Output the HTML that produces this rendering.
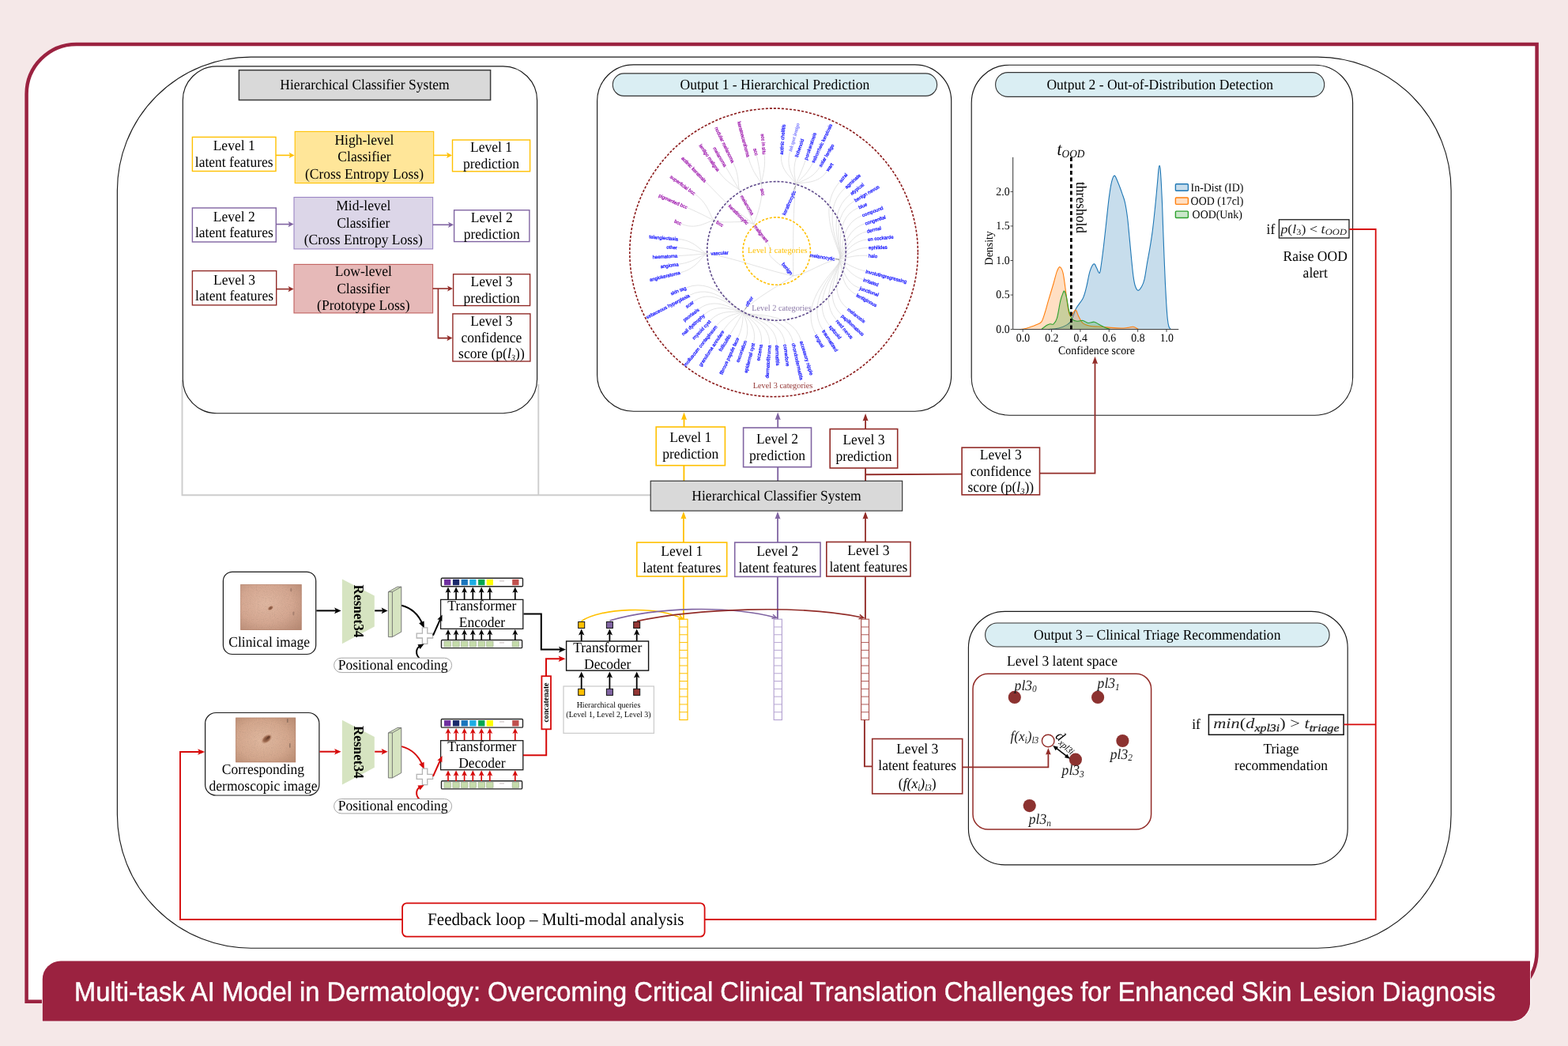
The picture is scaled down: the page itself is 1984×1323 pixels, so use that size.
<!DOCTYPE html>
<html lang="en">
<head>
<meta charset="utf-8">
<title>Multi-task AI Model in Dermatology</title>
<style>
html,body{margin:0;padding:0;background:#f5e8e8;}
body{width:1984px;height:1323px;overflow:hidden;}
svg{display:block;will-change:transform;}
text{white-space:pre;text-rendering:geometricPrecision;}
</style>
</head>
<body>
<svg width="1984" height="1323" viewBox="0 0 1984 1323" font-family='"Liberation Serif", "DejaVu Serif", serif' font-size="17.55">
<rect x="0" y="0" width="1984" height="1323" fill="#f5e8e8"/>
<path d="M96.6 56.0 L1944.6 56.0 L1944.6 1203.8 A63 63 0 0 1 1881.6 1266.8 L33.6 1266.8 L33.6 119.0 A63 63 0 0 1 96.6 56.0 Z" fill="#fff" stroke="#9b2240" stroke-width="4.5"/>
<path d="M76.8 1215.4 L1936 1215.4 L1936 1268.5 A23 23 0 0 1 1913 1291.5 L53.8 1291.5 L53.8 1238.4 A23 23 0 0 1 76.8 1215.4 Z" fill="#9b2240" stroke="#fff" stroke-width="1.6" paint-order="stroke"/>
<text font-size="34.3" font-family='"Liberation Sans", "DejaVu Sans", sans-serif' fill="#fff" transform="translate(93.9 1265.8) scale(0.953 1)" stroke="#fff" stroke-width="0.45">Multi-task AI Model in Dermatology: Overcoming Critical Clinical Translation Challenges for Enhanced Skin Lesion Diagnosis</text>
<rect x="148.4" y="72.1" width="1687.7" height="1127.1" rx="169" fill="none" stroke="#1a1a1a" stroke-width="1.15"/>
<path d="M230.5 481 L230.5 626.2 L823 626.2" fill="none" stroke="#cdcdcd" stroke-width="1.9"/>
<path d="M681.3 486 L681.3 626.2" fill="none" stroke="#cdcdcd" stroke-width="1.9"/>
<rect x="231.3" y="83.9" width="448.3" height="438.8" rx="43" fill="#fff" stroke="#1a1a1a" stroke-width="1.15"/>
<rect x="755.6" y="81.8" width="448.1" height="438.4" rx="46" fill="#fff" stroke="#1a1a1a" stroke-width="1.15"/>
<rect x="1229.2" y="82.2" width="482.4" height="443" rx="48" fill="#fff" stroke="#1a1a1a" stroke-width="1.15"/>
<rect x="1225.4" y="773.3" width="479.8" height="320.6" rx="46" fill="#fff" stroke="#1a1a1a" stroke-width="1.15"/>
<rect x="775.3" y="92.9" width="410.3" height="28.5" rx="14.2" fill="#daeef3" stroke="#333" stroke-width="1.1"/>
<text font-size="18.5" text-anchor="middle" transform="translate(980.4 112.9) scale(0.9486 1)">Output 1 - Hierarchical Prediction</text>
<rect x="1259.6" y="91.6" width="416.1" height="30.8" rx="15.4" fill="#daeef3" stroke="#333" stroke-width="1.1"/>
<text font-size="18.5" text-anchor="middle" transform="translate(1467.7 112.9) scale(0.9486 1)">Output 2 - Out-of-Distribution Detection</text>
<rect x="1246.6" y="788" width="435.5" height="30" rx="15" fill="#daeef3" stroke="#333" stroke-width="1.1"/>
<text font-size="18.5" text-anchor="middle" transform="translate(1464.2 808.9) scale(0.9486 1)">Output 3 – Clinical Triage Recommendation</text>
<rect x="302.4" y="88.7" width="318.2" height="37.8" fill="#d9d9d9" stroke="#3a3a3a" stroke-width="1.5"/>
<text font-size="18.5" text-anchor="middle" transform="translate(461.5 113) scale(0.9486 1)">Hierarchical Classifier System</text>
<rect x="243.4" y="173.4" width="105.6" height="43.1" fill="#fff" stroke="#ffc000" stroke-width="1.4"/><text font-size="18.5" text-anchor="middle" transform="translate(296.2 190.4) scale(0.9486 1)">Level 1</text><text font-size="18.5" text-anchor="middle" transform="translate(296.2 211.2) scale(0.9486 1)">latent features</text>
<rect x="373.2" y="166.4" width="175.5" height="65.2" fill="#ffe699" stroke="#ffc000" stroke-width="1.1"/><text font-size="18.5" text-anchor="middle" transform="translate(460.95 182.5) scale(0.9486 1)">High-level</text><text font-size="18.5" text-anchor="middle" transform="translate(460.95 204) scale(0.9486 1)">Classifier</text><text font-size="18.5" text-anchor="middle" transform="translate(460.95 225.5) scale(0.9486 1)">(Cross Entropy Loss)</text>
<rect x="572.5" y="177" width="98.1" height="39.8" fill="#fff" stroke="#ffc000" stroke-width="1.4"/><text font-size="18.5" text-anchor="middle" transform="translate(621.55 192.4) scale(0.9486 1)">Level 1</text><text font-size="18.5" text-anchor="middle" transform="translate(621.55 213.2) scale(0.9486 1)">prediction</text>
<path d="M349 196.4 L367.49 196.4" fill="none" stroke="#ffc000" stroke-width="1.6"/><path d="M372.6 196.4 L365.6 200 L367.14 196.4 L365.6 192.8 Z" fill="#ffc000"/>
<path d="M548.7 196.4 L566.89 196.4" fill="none" stroke="#ffc000" stroke-width="1.6"/><path d="M572 196.4 L565 200 L566.54 196.4 L565 192.8 Z" fill="#ffc000"/>
<rect x="243.4" y="263" width="105.9" height="43" fill="#fff" stroke="#8064a2" stroke-width="1.4"/><text font-size="18.5" text-anchor="middle" transform="translate(296.35 279.6) scale(0.9486 1)">Level 2</text><text font-size="18.5" text-anchor="middle" transform="translate(296.35 300.4) scale(0.9486 1)">latent features</text>
<rect x="372" y="249.5" width="175.6" height="65.4" fill="#dcd6e8" stroke="#9b86c4" stroke-width="1.1"/><text font-size="18.5" text-anchor="middle" transform="translate(459.8 266) scale(0.9486 1)">Mid-level</text><text font-size="18.5" text-anchor="middle" transform="translate(459.8 287.5) scale(0.9486 1)">Classifier</text><text font-size="18.5" text-anchor="middle" transform="translate(459.8 309) scale(0.9486 1)">(Cross Entropy Loss)</text>
<rect x="574.6" y="265.8" width="95.3" height="39.8" fill="#fff" stroke="#8064a2" stroke-width="1.4"/><text font-size="18.5" text-anchor="middle" transform="translate(622.25 281.2) scale(0.9486 1)">Level 2</text><text font-size="18.5" text-anchor="middle" transform="translate(622.25 302) scale(0.9486 1)">prediction</text>
<path d="M349.3 283.6 L366.49 283.6" fill="none" stroke="#8064a2" stroke-width="1.6"/><path d="M371.6 283.6 L364.6 287.2 L366.14 283.6 L364.6 280 Z" fill="#8064a2"/>
<path d="M547.6 284.3 L568.89 284.3" fill="none" stroke="#8064a2" stroke-width="1.6"/><path d="M574 284.3 L567 287.9 L568.54 284.3 L567 280.7 Z" fill="#8064a2"/>
<rect x="243.4" y="342.6" width="106.3" height="43.3" fill="#fff" stroke="#922c28" stroke-width="1.4"/><text font-size="18.5" text-anchor="middle" transform="translate(296.55 359.6) scale(0.9486 1)">Level 3</text><text font-size="18.5" text-anchor="middle" transform="translate(296.55 380.4) scale(0.9486 1)">latent features</text>
<rect x="372" y="334.4" width="175.6" height="61.5" fill="#e6b9b8" stroke="#c0605e" stroke-width="1.1"/><text font-size="18.5" text-anchor="middle" transform="translate(459.8 349.4) scale(0.9486 1)">Low-level</text><text font-size="18.5" text-anchor="middle" transform="translate(459.8 370.6) scale(0.9486 1)">Classifier</text><text font-size="18.5" text-anchor="middle" transform="translate(459.8 391.8) scale(0.9486 1)">(Prototype Loss)</text>
<rect x="573.6" y="346.8" width="97" height="39.8" fill="#fff" stroke="#922c28" stroke-width="1.4"/><text font-size="18.5" text-anchor="middle" transform="translate(622.1 361.9) scale(0.9486 1)">Level 3</text><text font-size="18.5" text-anchor="middle" transform="translate(622.1 382.7) scale(0.9486 1)">prediction</text>
<rect x="572.9" y="396.9" width="98" height="60.1" fill="#fff" stroke="#922c28" stroke-width="1.4"/><text font-size="18.5" text-anchor="middle" transform="translate(621.9 411.7) scale(0.9486 1)">Level 3</text><text font-size="18.5" text-anchor="middle" transform="translate(621.9 432.5) scale(0.9486 1)">confidence</text><text font-size="18.5" text-anchor="middle" transform="translate(621.9 453.3) scale(0.9486 1)">score (p(<tspan font-style="italic">l</tspan><tspan font-style="italic" font-size="11" dy="3">3</tspan><tspan dy="-3">))</tspan></text>
<path d="M349.7 365.6 L366.49 365.6" fill="none" stroke="#922c28" stroke-width="1.6"/><path d="M371.6 365.6 L364.6 369.2 L366.14 365.6 L364.6 362 Z" fill="#922c28"/>
<path d="M547.6 365 L567.89 365" fill="none" stroke="#922c28" stroke-width="1.6"/><path d="M573 365 L566 368.6 L567.54 365 L566 361.4 Z" fill="#922c28"/>
<path d="M554.4 365 L554.4 427.6 L567.29 427.6" fill="none" stroke="#922c28" stroke-width="1.6"/><path d="M572.4 427.6 L565.4 431.2 L566.94 427.6 L565.4 424 Z" fill="#922c28"/>
<path d="M963.6 233.4C962.48 228.26 952.38 219.63 947.11 199.66 M963.6 233.4C962.52 228.44 962.05 217.09 957.57 197.67 M963.6 233.4C962.5 228.35 969.07 216.91 967.3 196.7 M935.6 240.6C933.1 236.43 936.44 223.88 928.12 206.68 M935.6 240.6C933.18 236.57 928.07 227.5 918.61 211.63 M935.6 240.6C933.09 236.41 920.62 232.98 909.68 217.19 M921 258.4C917.1 254.59 908.52 246.08 893.63 230.66 M903.9 279.2C898.79 276.66 898.22 259.37 880.17 246.11 M903.9 279.2C899.27 276.9 889.3 271.21 870.7 263.08 M903.9 279.2C898.77 276.65 883.94 292.33 863.21 283.57 M1006.8 233.8C1008.44 228.24 986.72 219.38 988.51 196.7 M1006.8 233.8C1008.45 228.19 993.15 214.79 999.38 192.66 M1006.8 233.8C1008.15 229.21 1001.49 217.47 1007.42 199.64 M1006.8 233.8C1008.1 229.38 1013.12 220.35 1019.01 203.23 M1006.8 233.8C1008.16 229.18 1019.87 223.78 1027.99 206.68 M1006.8 233.8C1008.28 228.78 1026.46 229.35 1036.89 211.63 M1006.8 233.8C1008.48 228.09 1032.72 236.48 1045.92 217.19 M1060.7 328.1C1074.22 329.84 1027.06 271.38 1061.92 230.71 M1060.7 328.1C1073.24 329.71 1031.83 271.23 1068.9 238.2 M1060.7 328.1C1072.26 329.58 1039.36 274.34 1075.45 246.14 M1060.7 328.1C1071.26 329.46 1044.43 276.04 1080.37 254.61 M1060.7 328.1C1070.35 329.34 1050.15 278.14 1085.3 263.07 M1060.7 328.1C1069.34 329.21 1057.92 285.4 1089.88 273.13 M1060.7 328.1C1068.41 329.09 1064.32 292.66 1093.36 283.17 M1060.7 328.1C1067.59 328.98 1069.42 299.88 1095.84 293.1 M1060.7 328.1C1066.8 328.88 1072.76 305.51 1096.81 303.02 M1060.7 328.1C1066.24 328.81 1075.85 313.91 1097.8 313.33 M1060.7 328.1C1065.87 328.76 1077.18 322.04 1097.6 323.32 M1060.7 328.1C1065.8 328.75 1074.75 337.91 1094.34 342.9 M1060.7 328.1C1066.22 328.81 1070.67 346.33 1091.36 353.41 M1060.7 328.1C1066.86 328.89 1063.88 355.56 1086.77 363.99 M1060.7 328.1C1067.58 328.98 1058.87 359.47 1082.84 372.43 M1060.7 328.1C1069.41 329.22 1044.65 368.61 1071.85 389.86 M1060.7 328.1C1070.4 329.35 1036.22 371.77 1064.42 397.88 M1060.7 328.1C1071.29 329.46 1030.46 372.6 1057.91 404.29 M1060.7 328.1C1072.37 329.6 1019.61 375.97 1049.33 411.38 M1060.7 328.1C1073.32 329.72 1013.73 374.88 1040.95 416.79 M1060.7 328.1C1074.38 329.86 1005.73 374.9 1031.92 422.35 M941.2 393.1C935.76 403.11 1000.46 387.55 1013.55 430.35 M941.2 393.1C936.26 402.19 994.67 393.15 1003.54 432.83 M941.2 393.1C936.76 401.27 988.8 398.07 993.25 434.31 M941.2 393.1C937.23 400.41 981.74 402.64 983.05 435.3 M941.2 393.1C937.64 399.64 975.73 406.12 973.59 435.3 M941.2 393.1C938.08 398.84 967.57 409.03 963.11 434.32 M941.2 393.1C938.42 398.22 959.37 410.68 953.6 432.84 M941.2 393.1C938.74 397.62 950.63 410.82 943.62 429.77 M941.2 393.1C938.93 397.28 942 409.38 934.11 426.31 M941.2 393.1C938.94 397.26 933.98 406.53 924.23 422.38 M941.2 393.1C938.85 397.43 926.34 401.16 915.66 417.3 M941.2 393.1C938.62 397.85 920.41 394.75 907.15 411.36 M941.2 393.1C938.29 398.46 915.6 387.32 899.22 404.82 M941.2 393.1C937.88 399.21 911.9 379 891.69 397.39 M941.2 393.1C937.42 400.05 909.48 371.54 884.75 390.37 M941.2 393.1C936.91 401 906.59 359.93 878.17 380.89 M941.2 393.1C936.48 401.79 908.04 355.19 873.47 372.95 M941.2 393.1C935.99 402.68 908.98 347.86 869.12 363.56 M894.6 320.8C888.93 320.98 883.45 339.4 861.77 344.52 M894.6 320.8C889.38 320.97 880.04 331.29 859.69 334.04 M894.6 320.8C889.53 320.96 878.39 322.57 858.5 323.54 M894.6 320.8C889.4 320.97 878.6 314.58 858.2 313.37 M894.6 320.8C889.02 320.98 881.04 304.33 859.2 302.5 M1003.8 348.8C1003.4 320 1003.2 270 1006.8 233.8 M1003.8 348.8C1022 347 1040 331 1060.7 328.1 M1003.8 348.8C975 344 930 326 894.6 320.8 M1003.8 348.8C985 362 955 377 941.2 393.1 M953.8 283.6C940 277 920 284 903.9 279.2 M953.8 283.6C945 276 930 266 921 258.4 M953.8 283.6C948 270 940 252 935.6 240.6 M953.8 283.6C959 270 966 250 963.6 233.4 M975.5 316C972 306 964 296 953.8 283.6 M977 315.5C973.5 316 972.5 321 975 324.5C984 334 996 341 1003.8 348.8" fill="none" stroke="#dcdcdc" stroke-width="0.8" stroke-linecap="round"/>
<path d="M1057 327.3L1062 328.4M942.5 391.5L945 387.5M1004.6 240L1006.6 235" fill="none" stroke="#8a8a8a" stroke-width="0.9"/>
<circle cx="979.1" cy="319.4" r="182.3" fill="none" stroke="#8b1a1a" stroke-width="1.6" stroke-dasharray="3.1 1.95"/>
<circle cx="982.5" cy="317.4" r="87.8" fill="none" stroke="#5f4a8b" stroke-width="1.6" stroke-dasharray="3.1 1.95"/>
<circle cx="982.7" cy="317.6" r="42.7" fill="none" stroke="#ffc000" stroke-width="1.6" stroke-dasharray="3.1 1.95"/>
<g font-family='"Liberation Sans", "DejaVu Sans", sans-serif' font-size="6" stroke-width="0.34"><text x="946.8" y="198.5" dy="2.05" text-anchor="end" fill="#a62bb4" stroke="#a62bb4" transform="rotate(75.2 946.8 198.5)">keratoacanthoma</text><text x="957.3" y="196.5" dy="2.05" text-anchor="end" fill="#a62bb4" stroke="#a62bb4" transform="rotate(77 957.3 196.5)">scc</text><text x="967.2" y="195.5" dy="2.05" text-anchor="end" fill="#a62bb4" stroke="#a62bb4" transform="rotate(85 967.2 195.5)">scc in situ</text><text x="927.6" y="205.6" dy="2.05" text-anchor="end" fill="#a62bb4" stroke="#a62bb4" transform="rotate(64.2 927.6 205.6)">nodular melanoma</text><text x="918" y="210.6" dy="2.05" text-anchor="end" fill="#a62bb4" stroke="#a62bb4" transform="rotate(59.2 918 210.6)">melanoma</text><text x="909" y="216.2" dy="2.05" text-anchor="end" fill="#a62bb4" stroke="#a62bb4" transform="rotate(55.3 909 216.2)">lentigo maligna</text><text x="892.8" y="229.8" dy="2.05" text-anchor="end" fill="#a62bb4" stroke="#a62bb4" transform="rotate(46 892.8 229.8)">actinic keratosis</text><text x="879.2" y="245.4" dy="2.05" text-anchor="end" fill="#a62bb4" stroke="#a62bb4" transform="rotate(36.3 879.2 245.4)">superficial bcc</text><text x="869.6" y="262.6" dy="2.05" text-anchor="end" fill="#a62bb4" stroke="#a62bb4" transform="rotate(23.6 869.6 262.6)">pigmented bcc</text><text x="862.1" y="283.1" dy="2.05" text-anchor="end" fill="#a62bb4" stroke="#a62bb4" transform="rotate(22.9 862.1 283.1)">bcc</text><text x="988.6" y="195.5" dy="2.05" fill="#2b2bff" stroke="#2b2bff" transform="rotate(-85.5 988.6 195.5)">actinic cheilitis</text><text x="999.7" y="191.5" dy="2.05" fill="#8f8fff" stroke="#8f8fff" font-family='"Liberation Serif", serif' font-style="italic" transform="rotate(-74.3 999.7 191.5)">ink spot lentigo</text><text x="1007.8" y="198.5" dy="2.05" fill="#2b2bff" stroke="#2b2bff" transform="rotate(-71.6 1007.8 198.5)">lichenoid</text><text x="1019.4" y="202.1" dy="2.05" fill="#2b2bff" stroke="#2b2bff" transform="rotate(-71 1019.4 202.1)">porokeratosis</text><text x="1028.5" y="205.6" dy="2.05" fill="#2b2bff" stroke="#2b2bff" transform="rotate(-64.6 1028.5 205.6)">seborrheic keratosis</text><text x="1037.5" y="210.6" dy="2.05" fill="#2b2bff" stroke="#2b2bff" transform="rotate(-59.5 1037.5 210.6)">solar lentigo</text><text x="1046.6" y="216.2" dy="2.05" fill="#2b2bff" stroke="#2b2bff" transform="rotate(-55.6 1046.6 216.2)">wart</text><text x="1062.7" y="229.8" dy="2.05" fill="#2b2bff" stroke="#2b2bff" transform="rotate(-49.4 1062.7 229.8)">acral</text><text x="1069.8" y="237.4" dy="2.05" fill="#2b2bff" stroke="#2b2bff" transform="rotate(-41.7 1069.8 237.4)">agminate</text><text x="1076.4" y="245.4" dy="2.05" fill="#2b2bff" stroke="#2b2bff" transform="rotate(-38 1076.4 245.4)">atypical</text><text x="1081.4" y="254" dy="2.05" fill="#2b2bff" stroke="#2b2bff" transform="rotate(-30.8 1081.4 254)">benign nevus</text><text x="1086.4" y="262.6" dy="2.05" fill="#2b2bff" stroke="#2b2bff" transform="rotate(-23.2 1086.4 262.6)">blue</text><text x="1091" y="272.7" dy="2.05" fill="#2b2bff" stroke="#2b2bff" transform="rotate(-21 1091 272.7)">compound</text><text x="1094.5" y="282.8" dy="2.05" fill="#2b2bff" stroke="#2b2bff" transform="rotate(-18.1 1094.5 282.8)">congenital</text><text x="1097" y="292.8" dy="2.05" fill="#2b2bff" stroke="#2b2bff" transform="rotate(-14.4 1097 292.8)">dermal</text><text x="1098" y="302.9" dy="2.05" fill="#2b2bff" stroke="#2b2bff" transform="rotate(-5.9 1098 302.9)">en cockarde</text><text x="1099" y="313.3" dy="2.05" fill="#2b2bff" stroke="#2b2bff" transform="rotate(-1.5 1099 313.3)">ephilides</text><text x="1098.8" y="323.4" dy="2.05" fill="#2b2bff" stroke="#2b2bff" transform="rotate(3.6 1098.8 323.4)">halo</text><text x="1095.5" y="343.2" dy="2.05" fill="#2b2bff" stroke="#2b2bff" transform="rotate(14.3 1095.5 343.2)">involutingregressing</text><text x="1092.5" y="353.8" dy="2.05" fill="#2b2bff" stroke="#2b2bff" transform="rotate(18.9 1092.5 353.8)">irritated</text><text x="1087.9" y="364.4" dy="2.05" fill="#2b2bff" stroke="#2b2bff" transform="rotate(20.2 1087.9 364.4)">junctional</text><text x="1083.9" y="373" dy="2.05" fill="#2b2bff" stroke="#2b2bff" transform="rotate(28.4 1083.9 373)">lentiginous</text><text x="1072.8" y="390.6" dy="2.05" fill="#2b2bff" stroke="#2b2bff" transform="rotate(38 1072.8 390.6)">melanosis</text><text x="1065.3" y="398.7" dy="2.05" fill="#2b2bff" stroke="#2b2bff" transform="rotate(42.8 1065.3 398.7)">papillomatous</text><text x="1058.7" y="405.2" dy="2.05" fill="#2b2bff" stroke="#2b2bff" transform="rotate(49.1 1058.7 405.2)">reed nevus</text><text x="1050.1" y="412.3" dy="2.05" fill="#2b2bff" stroke="#2b2bff" transform="rotate(50 1050.1 412.3)">spitzoid</text><text x="1041.6" y="417.8" dy="2.05" fill="#2b2bff" stroke="#2b2bff" transform="rotate(57 1041.6 417.8)">traumatized</text><text x="1032.5" y="423.4" dy="2.05" fill="#2b2bff" stroke="#2b2bff" transform="rotate(61.1 1032.5 423.4)">ungual</text><text x="1013.9" y="431.5" dy="2.05" fill="#2b2bff" stroke="#2b2bff" transform="rotate(73 1013.9 431.5)">accessory nipple</text><text x="1003.8" y="434" dy="2.05" fill="#2b2bff" stroke="#2b2bff" transform="rotate(77.4 1003.8 434)">chondrodermatitis</text><text x="993.4" y="435.5" dy="2.05" fill="#2b2bff" stroke="#2b2bff" transform="rotate(83 993.4 435.5)">comedone</text><text x="983.1" y="436.5" dy="2.05" fill="#2b2bff" stroke="#2b2bff" transform="rotate(87.7 983.1 436.5)">dermatitis</text><text x="973.5" y="436.5" dy="2.05" text-anchor="end" fill="#2b2bff" stroke="#2b2bff" transform="rotate(-85.8 973.5 436.5)">dermatofibroma</text><text x="962.9" y="435.5" dy="2.05" text-anchor="end" fill="#2b2bff" stroke="#2b2bff" transform="rotate(-80 962.9 435.5)">eczema</text><text x="953.3" y="434" dy="2.05" text-anchor="end" fill="#2b2bff" stroke="#2b2bff" transform="rotate(-75.4 953.3 434)">epidermal cyst</text><text x="943.2" y="430.9" dy="2.05" text-anchor="end" fill="#2b2bff" stroke="#2b2bff" transform="rotate(-69.7 943.2 430.9)">excoriation</text><text x="933.6" y="427.4" dy="2.05" text-anchor="end" fill="#2b2bff" stroke="#2b2bff" transform="rotate(-65 933.6 427.4)">fibrous papule face</text><text x="923.6" y="423.4" dy="2.05" text-anchor="end" fill="#2b2bff" stroke="#2b2bff" transform="rotate(-58.4 923.6 423.4)">folliculitis</text><text x="915" y="418.3" dy="2.05" text-anchor="end" fill="#2b2bff" stroke="#2b2bff" transform="rotate(-56.5 915 418.3)">granuloma annulare</text><text x="906.4" y="412.3" dy="2.05" text-anchor="end" fill="#2b2bff" stroke="#2b2bff" transform="rotate(-51.4 906.4 412.3)">molluscum contagiosum</text><text x="898.4" y="405.7" dy="2.05" text-anchor="end" fill="#2b2bff" stroke="#2b2bff" transform="rotate(-46.9 898.4 405.7)">myxoid cyst</text><text x="890.8" y="398.2" dy="2.05" text-anchor="end" fill="#2b2bff" stroke="#2b2bff" transform="rotate(-42.3 890.8 398.2)">nail dystrophy</text><text x="883.8" y="391.1" dy="2.05" text-anchor="end" fill="#2b2bff" stroke="#2b2bff" transform="rotate(-37.3 883.8 391.1)">psoriasis</text><text x="877.2" y="381.6" dy="2.05" text-anchor="end" fill="#2b2bff" stroke="#2b2bff" transform="rotate(-36.4 877.2 381.6)">scar</text><text x="872.4" y="373.5" dy="2.05" text-anchor="end" fill="#2b2bff" stroke="#2b2bff" transform="rotate(-27.2 872.4 373.5)">sebaceous hyperplasia</text><text x="868" y="364" dy="2.05" text-anchor="end" fill="#2b2bff" stroke="#2b2bff" transform="rotate(-21.5 868 364)">skin tag</text><text x="860.6" y="344.8" dy="2.05" text-anchor="end" fill="#2b2bff" stroke="#2b2bff" transform="rotate(-13.3 860.6 344.8)">angiokeratoma</text><text x="858.5" y="334.2" dy="2.05" text-anchor="end" fill="#2b2bff" stroke="#2b2bff" transform="rotate(-7.7 858.5 334.2)">angioma</text><text x="857.3" y="323.6" dy="2.05" text-anchor="end" fill="#2b2bff" stroke="#2b2bff" transform="rotate(-2.8 857.3 323.6)">haematoma</text><text x="857" y="313.3" dy="2.05" text-anchor="end" fill="#2b2bff" stroke="#2b2bff" transform="rotate(3.4 857 313.3)">other</text><text x="858" y="302.4" dy="2.05" text-anchor="end" fill="#2b2bff" stroke="#2b2bff" transform="rotate(4.8 858 302.4)">telangiectasia</text><text x="954.8" y="285.3" dy="2.05" fill="#a62bb4" stroke="#a62bb4" transform="rotate(51.5 954.8 285.3)">malignant</text><text x="1001.8" y="346.8" dy="2.05" text-anchor="end" fill="#2b2bff" stroke="#2b2bff" transform="rotate(50.4 1001.8 346.8)">benign</text><text x="906.9" y="280.6" dy="2.05" fill="#a62bb4" stroke="#a62bb4" transform="rotate(32 906.9 280.6)">bcc</text><text x="922.6" y="259.6" dy="2.05" fill="#a62bb4" stroke="#a62bb4" transform="rotate(45 922.6 259.6)">keratinocytic</text><text x="938.2" y="247.4" dy="2.05" fill="#a62bb4" stroke="#a62bb4" transform="rotate(59.4 938.2 247.4)">melanoma</text><text x="963.9" y="238.4" dy="2.05" fill="#a62bb4" stroke="#a62bb4" transform="rotate(76 963.9 238.4)">scc</text><text x="1005.3" y="241.4" dy="2.05" text-anchor="end" fill="#2b2bff" stroke="#2b2bff" transform="rotate(-65.8 1005.3 241.4)">keratinocytic</text><text x="1056.2" y="327.6" dy="2.05" text-anchor="end" fill="#2b2bff" stroke="#2b2bff" transform="rotate(8.9 1056.2 327.6)">melanocytic</text><text x="944.2" y="387.1" dy="2.05" fill="#2b2bff" stroke="#2b2bff" transform="rotate(-57.5 944.2 387.1)">other</text><text x="899.4" y="320.6" dy="2.05" fill="#2b2bff" stroke="#2b2bff" transform="rotate(-2.6 899.4 320.6)">vascular</text></g>
<text font-size="10.86" text-anchor="middle" fill="#ffc000" transform="translate(983.8 319.8) scale(0.9486 1)">Level 1 categories</text>
<text font-size="10.86" text-anchor="middle" fill="#8c7aa8" transform="translate(988.9 393) scale(0.9486 1)">Level 2 categories</text>
<text font-size="10.86" text-anchor="middle" fill="#943634" transform="translate(990.5 490.6) scale(0.9486 1)">Level 3 categories</text>
<path d="M1326.45 416.6 C1328.64 416.35 1335.77 415.98 1339.6 415.07 C1343.44 414.15 1346.83 412.69 1349.47 411.12 C1352.1 409.55 1353.37 409.11 1355.38 405.64 C1357.39 402.17 1359.04 395.05 1361.52 390.3 C1364.01 385.55 1368.1 381.71 1370.29 377.15 C1372.48 372.58 1373.21 368.56 1374.67 362.9 C1376.13 357.24 1377.48 348.02 1379.06 343.17 C1380.64 338.32 1382.75 334.52 1384.15 333.79 C1385.56 333.05 1386.29 336.83 1387.48 338.77 C1388.67 340.71 1390.28 346.39 1391.3 345.42 C1392.33 344.45 1392.74 338.91 1393.63 332.96 C1394.51 327 1395.57 318.55 1396.62 309.69 C1397.67 300.83 1398.84 289.75 1399.94 279.77 C1401.05 269.8 1402.16 258.17 1403.27 249.86 C1404.38 241.55 1405.43 234.54 1406.59 229.92 C1407.75 225.29 1408.86 221.83 1410.25 222.1 C1411.63 222.38 1413.29 227.78 1414.9 231.58 C1416.51 235.37 1418.45 240.72 1419.89 244.87 C1421.33 249.03 1422.44 251.52 1423.54 256.51 C1424.65 261.49 1425.62 267.59 1426.53 274.79 C1427.45 281.99 1428.2 291.13 1429.03 299.72 C1429.86 308.3 1430.69 318 1431.52 326.31 C1432.35 334.62 1433.18 343.62 1434.01 349.58 C1434.84 355.53 1435.48 359.08 1436.51 362.04 C1437.53 365 1438.78 367.36 1440.16 367.36 C1441.55 367.36 1443.49 364.45 1444.82 362.04 C1446.15 359.63 1447.03 357.75 1448.14 352.9 C1449.25 348.05 1450.36 339.33 1451.46 332.96 C1452.57 326.59 1453.68 321.32 1454.79 314.68 C1455.9 308.03 1457.14 300.27 1458.11 293.07 C1459.08 285.87 1459.77 279.22 1460.6 271.46 C1461.44 263.71 1462.41 253.74 1463.1 246.53 C1463.79 239.33 1464.26 233.79 1464.76 228.25 C1465.26 222.71 1465.7 216.43 1466.09 213.3 C1466.48 210.17 1466.75 209.47 1467.09 209.47 C1467.42 209.47 1467.7 209.33 1468.08 213.3 C1468.47 217.26 1469 225.76 1469.41 233.24 C1469.83 240.72 1470.19 248.47 1470.58 258.17 C1470.96 267.86 1471.32 280.05 1471.74 291.41 C1472.16 302.76 1472.63 315.23 1473.07 326.31 C1473.51 337.39 1473.96 348.47 1474.4 357.89 C1474.84 367.3 1475.26 375.34 1475.73 382.82 C1476.2 390.29 1476.7 397.77 1477.22 402.76 C1477.75 407.74 1478.25 410.51 1478.89 412.73 C1479.52 414.95 1480.69 415.5 1481.05 416.05 L1481.05 416.6 L1326.45 416.6 Z" fill="#1f77b4" stroke="none" stroke-width="1.5" fill-opacity="0.25"/>
<path d="M1326.45 416.6 C1328.64 416.35 1335.77 415.98 1339.6 415.07 C1343.44 414.15 1346.83 412.69 1349.47 411.12 C1352.1 409.55 1353.37 409.11 1355.38 405.64 C1357.39 402.17 1359.04 395.05 1361.52 390.3 C1364.01 385.55 1368.1 381.71 1370.29 377.15 C1372.48 372.58 1373.21 368.56 1374.67 362.9 C1376.13 357.24 1377.48 348.02 1379.06 343.17 C1380.64 338.32 1382.75 334.52 1384.15 333.79 C1385.56 333.05 1386.29 336.83 1387.48 338.77 C1388.67 340.71 1390.28 346.39 1391.3 345.42 C1392.33 344.45 1392.74 338.91 1393.63 332.96 C1394.51 327 1395.57 318.55 1396.62 309.69 C1397.67 300.83 1398.84 289.75 1399.94 279.77 C1401.05 269.8 1402.16 258.17 1403.27 249.86 C1404.38 241.55 1405.43 234.54 1406.59 229.92 C1407.75 225.29 1408.86 221.83 1410.25 222.1 C1411.63 222.38 1413.29 227.78 1414.9 231.58 C1416.51 235.37 1418.45 240.72 1419.89 244.87 C1421.33 249.03 1422.44 251.52 1423.54 256.51 C1424.65 261.49 1425.62 267.59 1426.53 274.79 C1427.45 281.99 1428.2 291.13 1429.03 299.72 C1429.86 308.3 1430.69 318 1431.52 326.31 C1432.35 334.62 1433.18 343.62 1434.01 349.58 C1434.84 355.53 1435.48 359.08 1436.51 362.04 C1437.53 365 1438.78 367.36 1440.16 367.36 C1441.55 367.36 1443.49 364.45 1444.82 362.04 C1446.15 359.63 1447.03 357.75 1448.14 352.9 C1449.25 348.05 1450.36 339.33 1451.46 332.96 C1452.57 326.59 1453.68 321.32 1454.79 314.68 C1455.9 308.03 1457.14 300.27 1458.11 293.07 C1459.08 285.87 1459.77 279.22 1460.6 271.46 C1461.44 263.71 1462.41 253.74 1463.1 246.53 C1463.79 239.33 1464.26 233.79 1464.76 228.25 C1465.26 222.71 1465.7 216.43 1466.09 213.3 C1466.48 210.17 1466.75 209.47 1467.09 209.47 C1467.42 209.47 1467.7 209.33 1468.08 213.3 C1468.47 217.26 1469 225.76 1469.41 233.24 C1469.83 240.72 1470.19 248.47 1470.58 258.17 C1470.96 267.86 1471.32 280.05 1471.74 291.41 C1472.16 302.76 1472.63 315.23 1473.07 326.31 C1473.51 337.39 1473.96 348.47 1474.4 357.89 C1474.84 367.3 1475.26 375.34 1475.73 382.82 C1476.2 390.29 1476.7 397.77 1477.22 402.76 C1477.75 407.74 1478.25 410.51 1478.89 412.73 C1479.52 414.95 1480.69 415.5 1481.05 416.05" fill="none" stroke="#1f77b4" stroke-width="1.1"/>
<path d="M1290.28 416.6 C1291.56 416.42 1295.58 416.05 1297.95 415.51 C1300.33 414.96 1302.34 414.12 1304.53 413.31 C1306.72 412.51 1308.91 411.71 1311.1 410.68 C1313.3 409.66 1315.85 409.66 1317.68 407.18 C1319.51 404.69 1320.6 400.24 1322.06 395.78 C1323.53 391.32 1324.62 386.64 1326.45 380.43 C1328.28 374.22 1331.2 364.72 1333.02 358.51 C1334.85 352.3 1336.06 346.64 1337.41 343.17 C1338.76 339.7 1339.86 337.32 1341.14 337.69 C1342.41 338.05 1343.88 340.43 1345.08 345.36 C1346.29 350.29 1347.27 359.61 1348.37 367.28 C1349.47 374.95 1350.63 385.91 1351.66 391.39 C1352.68 396.87 1353.59 399.25 1354.51 400.16 C1355.42 401.08 1356.04 398.23 1357.14 396.87 C1358.23 395.52 1359.8 391.5 1361.08 392.05 C1362.36 392.6 1363.27 397.35 1364.81 400.16 C1366.34 402.98 1367.91 406.92 1370.29 408.93 C1372.66 410.94 1375.04 411.49 1379.06 412.22 C1383.08 412.95 1390.02 412.95 1394.4 413.31 C1398.79 413.68 1401.34 414.12 1405.36 414.41 C1409.38 414.7 1414.86 415.07 1418.51 415.07 C1422.17 415.07 1424.72 414.7 1427.28 414.41 C1429.84 414.12 1431.67 412.99 1433.86 413.31 C1436.05 413.64 1439.34 415.87 1440.43 416.38 L1440.43 416.6 L1290.28 416.6 Z" fill="#ff7f0e" stroke="none" stroke-width="1.5" fill-opacity="0.25"/>
<path d="M1290.28 416.6 C1291.56 416.42 1295.58 416.05 1297.95 415.51 C1300.33 414.96 1302.34 414.12 1304.53 413.31 C1306.72 412.51 1308.91 411.71 1311.1 410.68 C1313.3 409.66 1315.85 409.66 1317.68 407.18 C1319.51 404.69 1320.6 400.24 1322.06 395.78 C1323.53 391.32 1324.62 386.64 1326.45 380.43 C1328.28 374.22 1331.2 364.72 1333.02 358.51 C1334.85 352.3 1336.06 346.64 1337.41 343.17 C1338.76 339.7 1339.86 337.32 1341.14 337.69 C1342.41 338.05 1343.88 340.43 1345.08 345.36 C1346.29 350.29 1347.27 359.61 1348.37 367.28 C1349.47 374.95 1350.63 385.91 1351.66 391.39 C1352.68 396.87 1353.59 399.25 1354.51 400.16 C1355.42 401.08 1356.04 398.23 1357.14 396.87 C1358.23 395.52 1359.8 391.5 1361.08 392.05 C1362.36 392.6 1363.27 397.35 1364.81 400.16 C1366.34 402.98 1367.91 406.92 1370.29 408.93 C1372.66 410.94 1375.04 411.49 1379.06 412.22 C1383.08 412.95 1390.02 412.95 1394.4 413.31 C1398.79 413.68 1401.34 414.12 1405.36 414.41 C1409.38 414.7 1414.86 415.07 1418.51 415.07 C1422.17 415.07 1424.72 414.7 1427.28 414.41 C1429.84 414.12 1431.67 412.99 1433.86 413.31 C1436.05 413.64 1439.34 415.87 1440.43 416.38" fill="none" stroke="#ff7f0e" stroke-width="1.1"/>
<path d="M1317.68 416.6 C1318.78 415.76 1322.43 412.69 1324.26 411.56 C1326.08 410.43 1327.18 410.1 1328.64 409.81 C1330.1 409.51 1331.56 411.05 1333.02 409.81 C1334.49 408.56 1335.95 407.25 1337.41 402.35 C1338.87 397.46 1340.51 385.73 1341.79 380.43 C1343.07 375.14 1344.24 372.58 1345.08 370.57 C1345.92 368.56 1346.1 367.46 1346.83 368.38 C1347.57 369.29 1348.48 371.85 1349.47 376.05 C1350.45 380.25 1351.47 388.91 1352.75 393.59 C1354.03 398.26 1355.31 401.99 1357.14 404.11 C1358.96 406.23 1361.52 406.08 1363.71 406.3 C1365.91 406.52 1368.1 405.06 1370.29 405.42 C1372.48 405.79 1374.49 408.2 1376.87 408.49 C1379.24 408.78 1382.35 406.92 1384.54 407.18 C1386.73 407.43 1387.64 408.82 1390.02 410.03 C1392.39 411.23 1396.23 413.31 1398.79 414.41 C1401.34 415.51 1404.27 416.24 1405.36 416.6 L1405.36 416.6 L1317.68 416.6 Z" fill="#2ca02c" stroke="none" stroke-width="1.5" fill-opacity="0.25"/>
<path d="M1317.68 416.6 C1318.78 415.76 1322.43 412.69 1324.26 411.56 C1326.08 410.43 1327.18 410.1 1328.64 409.81 C1330.1 409.51 1331.56 411.05 1333.02 409.81 C1334.49 408.56 1335.95 407.25 1337.41 402.35 C1338.87 397.46 1340.51 385.73 1341.79 380.43 C1343.07 375.14 1344.24 372.58 1345.08 370.57 C1345.92 368.56 1346.1 367.46 1346.83 368.38 C1347.57 369.29 1348.48 371.85 1349.47 376.05 C1350.45 380.25 1351.47 388.91 1352.75 393.59 C1354.03 398.26 1355.31 401.99 1357.14 404.11 C1358.96 406.23 1361.52 406.08 1363.71 406.3 C1365.91 406.52 1368.1 405.06 1370.29 405.42 C1372.48 405.79 1374.49 408.2 1376.87 408.49 C1379.24 408.78 1382.35 406.92 1384.54 407.18 C1386.73 407.43 1387.64 408.82 1390.02 410.03 C1392.39 411.23 1396.23 413.31 1398.79 414.41 C1401.34 415.51 1404.27 416.24 1405.36 416.6" fill="none" stroke="#2ca02c" stroke-width="1.1"/>
<path d="M1281.7 198.9 L1281.7 416.6 L1491.3 416.6" fill="none" stroke="#333" stroke-width="1"/>
<path d="M1294.2 416.6 L1294.2 419.8" fill="none" stroke="#333" stroke-width="0.9"/>
<text font-size="14.55" text-anchor="middle" transform="translate(1294.5 432.2) scale(0.9486 1)">0.0</text>
<path d="M1330.56 416.6 L1330.56 419.8" fill="none" stroke="#333" stroke-width="0.9"/>
<text font-size="14.55" text-anchor="middle" transform="translate(1330.86 432.2) scale(0.9486 1)">0.2</text>
<path d="M1366.92 416.6 L1366.92 419.8" fill="none" stroke="#333" stroke-width="0.9"/>
<text font-size="14.55" text-anchor="middle" transform="translate(1367.22 432.2) scale(0.9486 1)">0.4</text>
<path d="M1403.28 416.6 L1403.28 419.8" fill="none" stroke="#333" stroke-width="0.9"/>
<text font-size="14.55" text-anchor="middle" transform="translate(1403.58 432.2) scale(0.9486 1)">0.6</text>
<path d="M1439.64 416.6 L1439.64 419.8" fill="none" stroke="#333" stroke-width="0.9"/>
<text font-size="14.55" text-anchor="middle" transform="translate(1439.94 432.2) scale(0.9486 1)">0.8</text>
<path d="M1476 416.6 L1476 419.8" fill="none" stroke="#333" stroke-width="0.9"/>
<text font-size="14.55" text-anchor="middle" transform="translate(1476.3 432.2) scale(0.9486 1)">1.0</text>
<path d="M1278.5 416.6 L1281.7 416.6" fill="none" stroke="#333" stroke-width="0.9"/>
<text font-size="14.55" text-anchor="end" transform="translate(1277.6 421) scale(0.9486 1)">0.0</text>
<path d="M1278.5 373.05 L1281.7 373.05" fill="none" stroke="#333" stroke-width="0.9"/>
<text font-size="14.55" text-anchor="end" transform="translate(1277.6 377.45) scale(0.9486 1)">0.5</text>
<path d="M1278.5 329.5 L1281.7 329.5" fill="none" stroke="#333" stroke-width="0.9"/>
<text font-size="14.55" text-anchor="end" transform="translate(1277.6 333.9) scale(0.9486 1)">1.0</text>
<path d="M1278.5 285.95 L1281.7 285.95" fill="none" stroke="#333" stroke-width="0.9"/>
<text font-size="14.55" text-anchor="end" transform="translate(1277.6 290.35) scale(0.9486 1)">1.5</text>
<path d="M1278.5 242.4 L1281.7 242.4" fill="none" stroke="#333" stroke-width="0.9"/>
<text font-size="14.55" text-anchor="end" transform="translate(1277.6 246.8) scale(0.9486 1)">2.0</text>
<text font-size="14.65" text-anchor="middle" transform="translate(1387.5 448) scale(0.9486 1)">Confidence score</text>
<text font-size="14.65" text-anchor="middle" transform="translate(1256.4 313.8) rotate(-90) scale(0.9486 1)">Density</text>
<path d="M1355.4 199 L1355.4 417.8" fill="none" stroke="#000" stroke-width="2.8" stroke-dasharray="5 3.5"/>
<text font-size="18.45" transform="translate(1362.2 230) rotate(90) scale(0.9486 1)">threshold</text>
<text font-size="18.5" font-style="italic" transform="translate(1337.6 196) scale(0.9486 1)"><tspan font-size="22.5">t</tspan><tspan font-size="14" dy="3.2">OOD</tspan></text>
<rect x="1487.4" y="232.8" width="16" height="8.4" rx="1" fill="#1f77b4" stroke="#1f77b4" stroke-width="1.4" fill-opacity="0.25"/>
<text font-size="14.65" transform="translate(1506.6 242) scale(0.9486 1)">In-Dist (ID)</text>
<rect x="1487.4" y="249.95" width="16" height="8.4" rx="1" fill="#ff7f0e" stroke="#ff7f0e" stroke-width="1.4" fill-opacity="0.25"/>
<text font-size="14.65" transform="translate(1506.6 259.15) scale(0.9486 1)">OOD (17cl)</text>
<rect x="1487.4" y="267.1" width="16" height="8.4" rx="1" fill="#2ca02c" stroke="#2ca02c" stroke-width="1.4" fill-opacity="0.25"/>
<text font-size="14.65" transform="translate(1508.6 276.3) scale(0.9486 1)">OOD(Unk)</text>
<text font-size="18.5" transform="translate(1602.6 295.8) scale(0.9486 1)">if</text>
<rect x="1618.4" y="277.8" width="88.6" height="23.2" fill="#fff" stroke="#111" stroke-width="1.25"/>
<text x="1620.4" y="294.6" font-size="17.55" font-style="italic" fill="#222" textLength="83.6" lengthAdjust="spacingAndGlyphs"><tspan font-size="16">p</tspan><tspan font-size="16" font-style="normal">(</tspan><tspan font-size="16">l</tspan><tspan font-size="11" font-style="normal" dy="2.6">3</tspan><tspan font-size="16" font-style="normal" dy="-2.6">) &lt; </tspan><tspan font-size="16.5">t</tspan><tspan font-size="11.2" dy="2.8">OOD</tspan></text>
<text font-size="18.5" text-anchor="middle" transform="translate(1664.2 330.3) scale(0.9486 1)">Raise OOD</text>
<text font-size="18.5" text-anchor="middle" transform="translate(1664.2 351.4) scale(0.9486 1)">alert</text>
<path d="M864.9 783 L864.9 729" fill="none" stroke="#ffc000" stroke-width="1.9"/>
<path d="M983.9 783 L983.9 729" fill="none" stroke="#8064a2" stroke-width="1.9"/>
<path d="M1094.9 783 L1094.9 729" fill="none" stroke="#922c28" stroke-width="1.9"/>
<path d="M864.9 686 L864.9 655.08" fill="none" stroke="#ffc000" stroke-width="1.8"/><path d="M864.9 647 L868.4 656.5 L864.9 655.55 L861.4 656.5 Z" fill="#ffc000"/>
<path d="M984 686 L984 655.08" fill="none" stroke="#8064a2" stroke-width="1.8"/><path d="M984 647 L987.5 656.5 L984 655.55 L980.5 656.5 Z" fill="#8064a2"/>
<path d="M1095 686 L1095 655.08" fill="none" stroke="#922c28" stroke-width="1.8"/><path d="M1095 647 L1098.5 656.5 L1095 655.55 L1091.5 656.5 Z" fill="#922c28"/>
<path d="M865.4 608.3 L865.4 588.7" fill="none" stroke="#ffc000" stroke-width="1.9"/>
<path d="M984.2 608.3 L984.2 590.7" fill="none" stroke="#8064a2" stroke-width="1.9"/>
<path d="M1095.1 608.3 L1095.1 592" fill="none" stroke="#922c28" stroke-width="1.9"/>
<path d="M865.5 540 L865.5 529.68" fill="none" stroke="#ffc000" stroke-width="1.8"/><path d="M865.5 521.6 L869 531.1 L865.5 530.15 L862 531.1 Z" fill="#ffc000"/>
<path d="M984.2 541 L984.2 529.68" fill="none" stroke="#8064a2" stroke-width="1.8"/><path d="M984.2 521.6 L987.7 531.1 L984.2 530.15 L980.7 531.1 Z" fill="#8064a2"/>
<path d="M1095.1 542.6 L1095.1 531.08" fill="none" stroke="#922c28" stroke-width="1.8"/><path d="M1095.1 523 L1098.6 532.5 L1095.1 531.55 L1091.6 532.5 Z" fill="#922c28"/>
<path d="M1095.6 600.2 L1217.1 599.6" fill="none" stroke="#922c28" stroke-width="1.9"/>
<path d="M1315.5 598.6 L1385.5 598.6 L1385.5 458.88" fill="none" stroke="#922c28" stroke-width="1.8"/><path d="M1385.5 450.8 L1389 460.3 L1385.5 459.35 L1382 460.3 Z" fill="#922c28"/>
<rect x="823.2" y="608.3" width="318.5" height="37.8" fill="#d9d9d9" stroke="#2a2a2a" stroke-width="1.1"/>
<text font-size="18.5" text-anchor="middle" transform="translate(982.5 633.2) scale(0.9486 1)">Hierarchical Classifier System</text>
<rect x="830.2" y="540" width="87.2" height="48.7" fill="#fff" stroke="#ffc000" stroke-width="1.6"/><text font-size="18.5" text-anchor="middle" transform="translate(873.8 559.4) scale(0.9486 1)">Level 1</text><text font-size="18.5" text-anchor="middle" transform="translate(873.8 580.2) scale(0.9486 1)">prediction</text>
<rect x="940.6" y="541" width="85.9" height="49.7" fill="#fff" stroke="#8064a2" stroke-width="1.6"/><text font-size="18.5" text-anchor="middle" transform="translate(983.55 560.8) scale(0.9486 1)">Level 2</text><text font-size="18.5" text-anchor="middle" transform="translate(983.55 581.6) scale(0.9486 1)">prediction</text>
<rect x="1050.2" y="542.6" width="85.5" height="49.4" fill="#fff" stroke="#922c28" stroke-width="1.6"/><text font-size="18.5" text-anchor="middle" transform="translate(1092.95 562.4) scale(0.9486 1)">Level 3</text><text font-size="18.5" text-anchor="middle" transform="translate(1092.95 583.2) scale(0.9486 1)">prediction</text>
<rect x="1217.1" y="566.1" width="98.4" height="59.7" fill="#fff" stroke="#922c28" stroke-width="1.6"/><text font-size="18.5" text-anchor="middle" transform="translate(1266.3 580.7) scale(0.9486 1)">Level 3</text><text font-size="18.5" text-anchor="middle" transform="translate(1266.3 601.5) scale(0.9486 1)">confidence</text><text font-size="18.5" text-anchor="middle" transform="translate(1266.3 622.3) scale(0.9486 1)">score (p(<tspan font-style="italic">l</tspan><tspan font-style="italic" font-size="11" dy="3">3</tspan><tspan dy="-3">))</tspan></text>
<rect x="805.8" y="686.1" width="113.9" height="42.9" fill="#fff" stroke="#ffc000" stroke-width="1.6"/><text font-size="18.5" text-anchor="middle" transform="translate(862.75 702.7) scale(0.9486 1)">Level 1</text><text font-size="18.5" text-anchor="middle" transform="translate(862.75 723.5) scale(0.9486 1)">latent features</text>
<rect x="929.7" y="686.1" width="108.3" height="43.3" fill="#fff" stroke="#8064a2" stroke-width="1.6"/><text font-size="18.5" text-anchor="middle" transform="translate(983.85 702.7) scale(0.9486 1)">Level 2</text><text font-size="18.5" text-anchor="middle" transform="translate(983.85 723.5) scale(0.9486 1)">latent features</text>
<rect x="1045.8" y="685.5" width="106.2" height="43.5" fill="#fff" stroke="#922c28" stroke-width="1.6"/><text font-size="18.5" text-anchor="middle" transform="translate(1098.9 702.1) scale(0.9486 1)">Level 3</text><text font-size="18.5" text-anchor="middle" transform="translate(1098.9 722.9) scale(0.9486 1)">latent features</text>
<rect x="859.8" y="783.2" width="10.2" height="127.3" fill="#fff" stroke="#ffc000" stroke-width="1.2"/><path d="M859.8 792.99 L870 792.99" fill="none" stroke="#ffc000" stroke-width="1"/><path d="M859.8 802.78 L870 802.78" fill="none" stroke="#ffc000" stroke-width="1"/><path d="M859.8 812.58 L870 812.58" fill="none" stroke="#ffc000" stroke-width="1"/><path d="M859.8 822.37 L870 822.37" fill="none" stroke="#ffc000" stroke-width="1"/><path d="M859.8 832.16 L870 832.16" fill="none" stroke="#ffc000" stroke-width="1"/><path d="M859.8 841.95 L870 841.95" fill="none" stroke="#ffc000" stroke-width="1"/><path d="M859.8 851.75 L870 851.75" fill="none" stroke="#ffc000" stroke-width="1"/><path d="M859.8 861.54 L870 861.54" fill="none" stroke="#ffc000" stroke-width="1"/><path d="M859.8 871.33 L870 871.33" fill="none" stroke="#ffc000" stroke-width="1"/><path d="M859.8 881.12 L870 881.12" fill="none" stroke="#ffc000" stroke-width="1"/><path d="M859.8 890.92 L870 890.92" fill="none" stroke="#ffc000" stroke-width="1"/><path d="M859.8 900.71 L870 900.71" fill="none" stroke="#ffc000" stroke-width="1"/>
<rect x="979.2" y="783.2" width="10.2" height="127.3" fill="#fff" stroke="#b7a6d3" stroke-width="1.2"/><path d="M979.2 792.99 L989.4 792.99" fill="none" stroke="#b7a6d3" stroke-width="1"/><path d="M979.2 802.78 L989.4 802.78" fill="none" stroke="#b7a6d3" stroke-width="1"/><path d="M979.2 812.58 L989.4 812.58" fill="none" stroke="#b7a6d3" stroke-width="1"/><path d="M979.2 822.37 L989.4 822.37" fill="none" stroke="#b7a6d3" stroke-width="1"/><path d="M979.2 832.16 L989.4 832.16" fill="none" stroke="#b7a6d3" stroke-width="1"/><path d="M979.2 841.95 L989.4 841.95" fill="none" stroke="#b7a6d3" stroke-width="1"/><path d="M979.2 851.75 L989.4 851.75" fill="none" stroke="#b7a6d3" stroke-width="1"/><path d="M979.2 861.54 L989.4 861.54" fill="none" stroke="#b7a6d3" stroke-width="1"/><path d="M979.2 871.33 L989.4 871.33" fill="none" stroke="#b7a6d3" stroke-width="1"/><path d="M979.2 881.12 L989.4 881.12" fill="none" stroke="#b7a6d3" stroke-width="1"/><path d="M979.2 890.92 L989.4 890.92" fill="none" stroke="#b7a6d3" stroke-width="1"/><path d="M979.2 900.71 L989.4 900.71" fill="none" stroke="#b7a6d3" stroke-width="1"/>
<rect x="1089.6" y="783.2" width="9.9" height="127.3" fill="#fff" stroke="#b05c58" stroke-width="1.2"/><path d="M1089.6 792.99 L1099.5 792.99" fill="none" stroke="#b05c58" stroke-width="1"/><path d="M1089.6 802.78 L1099.5 802.78" fill="none" stroke="#b05c58" stroke-width="1"/><path d="M1089.6 812.58 L1099.5 812.58" fill="none" stroke="#b05c58" stroke-width="1"/><path d="M1089.6 822.37 L1099.5 822.37" fill="none" stroke="#b05c58" stroke-width="1"/><path d="M1089.6 832.16 L1099.5 832.16" fill="none" stroke="#b05c58" stroke-width="1"/><path d="M1089.6 841.95 L1099.5 841.95" fill="none" stroke="#b05c58" stroke-width="1"/><path d="M1089.6 851.75 L1099.5 851.75" fill="none" stroke="#b05c58" stroke-width="1"/><path d="M1089.6 861.54 L1099.5 861.54" fill="none" stroke="#b05c58" stroke-width="1"/><path d="M1089.6 871.33 L1099.5 871.33" fill="none" stroke="#b05c58" stroke-width="1"/><path d="M1089.6 881.12 L1099.5 881.12" fill="none" stroke="#b05c58" stroke-width="1"/><path d="M1089.6 890.92 L1099.5 890.92" fill="none" stroke="#b05c58" stroke-width="1"/><path d="M1089.6 900.71 L1099.5 900.71" fill="none" stroke="#b05c58" stroke-width="1"/>
<defs><radialGradient id="skinA" cx="0.42" cy="0.42" r="0.78"><stop offset="0" stop-color="#e1b8a2"/><stop offset="0.55" stop-color="#d5a791"/><stop offset="1" stop-color="#b68872"/></radialGradient><radialGradient id="skinB" cx="0.45" cy="0.5" r="0.78"><stop offset="0" stop-color="#e1b9a0"/><stop offset="0.55" stop-color="#d4a78d"/><stop offset="1" stop-color="#b4866c"/></radialGradient><radialGradient id="mole" cx="0.5" cy="0.5" r="0.5"><stop offset="0" stop-color="#5e3320"/><stop offset="0.55" stop-color="#8a5237" stop-opacity="0.9"/><stop offset="1" stop-color="#b57f63" stop-opacity="0"/></radialGradient><filter id="grain" x="0" y="0" width="100%" height="100%"><feTurbulence type="fractalNoise" baseFrequency="0.9" numOctaves="2" seed="3" result="n"/><feColorMatrix in="n" type="matrix" values="0 0 0 0 0.38  0 0 0 0 0.25  0 0 0 0 0.18  0.5 0.5 0 0 -0.44"/><feComposite operator="in" in2="SourceGraphic"/></filter></defs>
<rect x="282.4" y="723.3" width="117.3" height="104.2" rx="11.5" fill="#fff" stroke="#1a1a1a" stroke-width="1.2"/>
<rect x="304.3" y="739.2" width="77.3" height="57.7" fill="url(#skinA)" stroke="none" stroke-width="1.5"/>
<rect x="304.3" y="739.2" width="77.3" height="57.7" fill="#fff" stroke="none" stroke-width="1.5" filter="url(#grain)"/>
<rect x="304.7" y="739.6" width="76.5" height="56.9" fill="none" stroke="#b07e66" stroke-width="0.8" opacity="0.7"/>
<ellipse cx="342.3" cy="769.1" rx="4.4" ry="2.8" fill="url(#mole)" opacity="0.8" transform="rotate(-35 342.3 769.1)"/>
<ellipse cx="368.3" cy="746.2" rx="1.1" ry="2.4" fill="#7a5a50" opacity="0.45"/>
<ellipse cx="371.4" cy="775.8" rx="1.1" ry="2.6" fill="#7a5a50" opacity="0.45"/>
<text font-size="18.5" text-anchor="middle" transform="translate(340.7 817.6) scale(0.9486 1)">Clinical image</text>
<rect x="259.6" y="901.5" width="144.3" height="104.5" rx="13.6" fill="#fff" stroke="#1a1a1a" stroke-width="1.2"/>
<rect x="298.2" y="907.7" width="75.9" height="56.5" fill="url(#skinB)" stroke="none" stroke-width="1.5"/>
<rect x="298.2" y="907.7" width="75.9" height="56.5" fill="#fff" stroke="none" stroke-width="1.5" filter="url(#grain)"/>
<rect x="298.6" y="908.1" width="75.1" height="55.7" fill="none" stroke="#b07e66" stroke-width="0.8" opacity="0.7"/>
<ellipse cx="337.4" cy="934.6" rx="8.2" ry="5" fill="url(#mole)" opacity="0.85" transform="rotate(-38 337.4 934.6)"/>
<ellipse cx="339.8" cy="932.6" rx="2.4" ry="1.5" fill="#4e2a1c" opacity="0.55" transform="rotate(-38 339.8 932.6)"/>
<rect x="363.3" y="909.2" width="1.1" height="4.6" fill="#4d3f3a" opacity="0.6"/>
<rect x="366.3" y="940.2" width="1.1" height="5.4" fill="#4d3f3a" opacity="0.6"/>
<text font-size="18.5" text-anchor="middle" transform="translate(332.9 978.9) scale(0.9486 1)">Corresponding</text>
<text font-size="18.5" text-anchor="middle" transform="translate(333 999.8) scale(0.9486 1)">dermoscopic image</text>
<path d="M432.9 732.4 L473.8 753.6 L473.8 792.4 L432.9 814.3 Z" fill="#d6e4c1" stroke="none" stroke-width="1.5"/><text font-size="18.13" font-weight="bold" transform="translate(448 739.6) rotate(90) scale(0.9486 1)">Resnet34</text><path d="M400.4 772.4 L425.4 772.4" fill="none" stroke="#000" stroke-width="2"/><path d="M431.6 772.4 L423.1 776.2 L424.97 772.4 L423.1 768.6 Z" fill="#000"/><path d="M474.2 772.4 L484.76 772.4" fill="none" stroke="#000" stroke-width="2"/><path d="M490.6 772.4 L482.6 776.2 L484.36 772.4 L482.6 768.6 Z" fill="#000"/><path d="M491.4 748.6 L502.9 742.2 L507.8 742.2 L507.8 799.2 L496.4 805.6 L491.4 805.6 Z" fill="#d6e4c1" stroke="#6d6d6d" stroke-width="0.9"/><path d="M491.4 748.6 L496.4 748.6 L507.8 742.2 M496.4 748.6 L496.4 805.6" fill="none" stroke="#6d6d6d" stroke-width="0.9"/><path d="M508.2 765.8 C520 769 529.5 777 534.6 789.6" fill="none" stroke="#000" stroke-width="2"/><path d="M536.8 794.6 L530.15 788.26 L533.34 786.83 L536.54 785.41 Z" fill="#000"/><path d="M534.4 793.9 H540.8 V801.1 H547.6 V807 H540.8 V814.3 H534.4 V807 H527.2 V801.1 H534.4 Z" fill="#fff" stroke="#b3b3b3" stroke-width="1.3"/><path d="M530.6 832.4 C526 828 525.5 820.5 531.6 817" fill="none" stroke="#000" stroke-width="2"/><path d="M536.6 814.6 L531.53 821.03 L529.98 818.12 L528.43 815.21 Z" fill="#000"/><rect x="422.6" y="832.2" width="149" height="18.4" rx="9.2" fill="#fff" stroke="#a6a6a6" stroke-width="1"/><text font-size="18.5" text-anchor="middle" transform="translate(497.1 846.8) scale(0.9486 1)">Positional encoding</text><rect x="558.3" y="731.2" width="103.2" height="10.6" rx="1.2" fill="#fff" stroke="#262626" stroke-width="1.4"/><rect x="562" y="732.8" width="8.3" height="7.4" fill="#7030a0"/><rect x="572.9" y="732.8" width="8.3" height="7.4" fill="#1b2a6b"/><rect x="583.6" y="732.8" width="8.3" height="7.4" fill="#1b75bc"/><rect x="594.2" y="732.8" width="8.3" height="7.4" fill="#1cade4"/><rect x="605.1" y="732.8" width="8.3" height="7.4" fill="#00a650"/><rect x="615.7" y="732.8" width="8.3" height="7.4" fill="#ffff00"/><rect x="648.2" y="732.8" width="8.3" height="7.4" fill="#c0504d"/><text font-size="6.33" text-anchor="middle" font-weight="bold" fill="#6b4b4b" transform="translate(635 737.1) scale(0.9486 1)">···</text><rect x="558.5" y="809.5" width="102.1" height="10.1" rx="1.2" fill="#fff" stroke="#262626" stroke-width="1.4"/><rect x="562" y="811.1" width="8.3" height="6.9" fill="#c5dcaa" stroke="#a9b89a" stroke-width="0.8"/><rect x="572.9" y="811.1" width="8.3" height="6.9" fill="#c5dcaa" stroke="#a9b89a" stroke-width="0.8"/><rect x="583.6" y="811.1" width="8.3" height="6.9" fill="#c5dcaa" stroke="#a9b89a" stroke-width="0.8"/><rect x="594.2" y="811.1" width="8.3" height="6.9" fill="#c5dcaa" stroke="#a9b89a" stroke-width="0.8"/><rect x="605.1" y="811.1" width="8.3" height="6.9" fill="#c5dcaa" stroke="#a9b89a" stroke-width="0.8"/><rect x="615.7" y="811.1" width="8.3" height="6.9" fill="#c5dcaa" stroke="#a9b89a" stroke-width="0.8"/><rect x="648.2" y="811.1" width="8.3" height="6.9" fill="#c5dcaa" stroke="#a9b89a" stroke-width="0.8"/><text font-size="6.33" text-anchor="middle" font-weight="bold" fill="#6b4b4b" transform="translate(635 815.15) scale(0.9486 1)">···</text><path d="M567 758.4 L567 747.86" fill="none" stroke="#000" stroke-width="1.7"/><path d="M567 742.6 L570.4 749.8 L567 748.22 L563.6 749.8 Z" fill="#000"/><path d="M567 809.6 L567 801.26" fill="none" stroke="#000" stroke-width="1.7"/><path d="M567 796 L570.4 803.2 L567 801.62 L563.6 803.2 Z" fill="#000"/><path d="M577.1 758.4 L577.1 747.86" fill="none" stroke="#000" stroke-width="1.7"/><path d="M577.1 742.6 L580.5 749.8 L577.1 748.22 L573.7 749.8 Z" fill="#000"/><path d="M577.1 809.6 L577.1 801.26" fill="none" stroke="#000" stroke-width="1.7"/><path d="M577.1 796 L580.5 803.2 L577.1 801.62 L573.7 803.2 Z" fill="#000"/><path d="M587.6 758.4 L587.6 747.86" fill="none" stroke="#000" stroke-width="1.7"/><path d="M587.6 742.6 L591 749.8 L587.6 748.22 L584.2 749.8 Z" fill="#000"/><path d="M587.6 809.6 L587.6 801.26" fill="none" stroke="#000" stroke-width="1.7"/><path d="M587.6 796 L591 803.2 L587.6 801.62 L584.2 803.2 Z" fill="#000"/><path d="M598.3 758.4 L598.3 747.86" fill="none" stroke="#000" stroke-width="1.7"/><path d="M598.3 742.6 L601.7 749.8 L598.3 748.22 L594.9 749.8 Z" fill="#000"/><path d="M598.3 809.6 L598.3 801.26" fill="none" stroke="#000" stroke-width="1.7"/><path d="M598.3 796 L601.7 803.2 L598.3 801.62 L594.9 803.2 Z" fill="#000"/><path d="M609.2 758.4 L609.2 747.86" fill="none" stroke="#000" stroke-width="1.7"/><path d="M609.2 742.6 L612.6 749.8 L609.2 748.22 L605.8 749.8 Z" fill="#000"/><path d="M609.2 809.6 L609.2 801.26" fill="none" stroke="#000" stroke-width="1.7"/><path d="M609.2 796 L612.6 803.2 L609.2 801.62 L605.8 803.2 Z" fill="#000"/><path d="M619.8 758.4 L619.8 747.86" fill="none" stroke="#000" stroke-width="1.7"/><path d="M619.8 742.6 L623.2 749.8 L619.8 748.22 L616.4 749.8 Z" fill="#000"/><path d="M619.8 809.6 L619.8 801.26" fill="none" stroke="#000" stroke-width="1.7"/><path d="M619.8 796 L623.2 803.2 L619.8 801.62 L616.4 803.2 Z" fill="#000"/><path d="M651.8 758.4 L651.8 747.86" fill="none" stroke="#000" stroke-width="1.7"/><path d="M651.8 742.6 L655.2 749.8 L651.8 748.22 L648.4 749.8 Z" fill="#000"/><path d="M651.8 809.6 L651.8 801.26" fill="none" stroke="#000" stroke-width="1.7"/><path d="M651.8 796 L655.2 803.2 L651.8 801.62 L648.4 803.2 Z" fill="#000"/><rect x="557.6" y="758.4" width="104.2" height="37" fill="#fff" stroke="#1a1a1a" stroke-width="1.3"/><path d="M548 803.6 L556.99 783.44" fill="none" stroke="#000" stroke-width="2"/><path d="M559.6 777.6 L559.35 786.25 L556.83 783.81 L553.33 783.56 Z" fill="#000"/><text font-size="18.5" text-anchor="middle" transform="translate(609.9 771.7) scale(0.9486 1)">Transformer</text><text font-size="18.5" text-anchor="middle" transform="translate(609.9 792.7) scale(0.9486 1)">Encoder</text>
<path d="M432.9 910.7 L473.8 931.9 L473.8 970.7 L432.9 992.6 Z" fill="#d6e4c1" stroke="none" stroke-width="1.5"/><text font-size="18.13" font-weight="bold" transform="translate(448 917.9) rotate(90) scale(0.9486 1)">Resnet34</text><path d="M404.4 950.7 L425.4 950.7" fill="none" stroke="#d60a0a" stroke-width="2"/><path d="M431.6 950.7 L423.1 954.5 L424.97 950.7 L423.1 946.9 Z" fill="#d60a0a"/><path d="M474.2 950.7 L484.76 950.7" fill="none" stroke="#d60a0a" stroke-width="2"/><path d="M490.6 950.7 L482.6 954.5 L484.36 950.7 L482.6 946.9 Z" fill="#d60a0a"/><path d="M491.4 926.9 L502.9 920.5 L507.8 920.5 L507.8 977.5 L496.4 983.9 L491.4 983.9 Z" fill="#d6e4c1" stroke="#6d6d6d" stroke-width="0.9"/><path d="M491.4 926.9 L496.4 926.9 L507.8 920.5 M496.4 926.9 L496.4 983.9" fill="none" stroke="#6d6d6d" stroke-width="0.9"/><path d="M508.2 944.1 C520 947.3 529.5 955.3 534.6 967.9" fill="none" stroke="#d60a0a" stroke-width="2"/><path d="M536.8 972.9 L530.15 966.56 L533.34 965.13 L536.54 963.71 Z" fill="#d60a0a"/><path d="M534.4 972.2 H540.8 V979.4 H547.6 V985.3 H540.8 V992.6 H534.4 V985.3 H527.2 V979.4 H534.4 Z" fill="#fff" stroke="#b3b3b3" stroke-width="1.3"/><path d="M530.6 1010.7 C526 1006.3 525.5 998.8 531.6 995.3" fill="none" stroke="#d60a0a" stroke-width="2"/><path d="M536.6 992.9 L531.53 999.33 L529.98 996.42 L528.43 993.51 Z" fill="#d60a0a"/><rect x="422.6" y="1010.5" width="149" height="18.4" rx="9.2" fill="#fff" stroke="#a6a6a6" stroke-width="1"/><text font-size="18.5" text-anchor="middle" transform="translate(497.1 1025.1) scale(0.9486 1)">Positional encoding</text><rect x="558.3" y="909.5" width="103.2" height="10.6" rx="1.2" fill="#fff" stroke="#262626" stroke-width="1.4"/><rect x="562" y="911.1" width="8.3" height="7.4" fill="#7030a0"/><rect x="572.9" y="911.1" width="8.3" height="7.4" fill="#1b2a6b"/><rect x="583.6" y="911.1" width="8.3" height="7.4" fill="#1b75bc"/><rect x="594.2" y="911.1" width="8.3" height="7.4" fill="#1cade4"/><rect x="605.1" y="911.1" width="8.3" height="7.4" fill="#00a650"/><rect x="615.7" y="911.1" width="8.3" height="7.4" fill="#ffff00"/><rect x="648.2" y="911.1" width="8.3" height="7.4" fill="#c0504d"/><text font-size="6.33" text-anchor="middle" font-weight="bold" fill="#6b4b4b" transform="translate(635 915.4) scale(0.9486 1)">···</text><rect x="558.5" y="987.8" width="102.1" height="10.1" rx="1.2" fill="#fff" stroke="#262626" stroke-width="1.4"/><rect x="562" y="989.4" width="8.3" height="6.9" fill="#c5dcaa" stroke="#a9b89a" stroke-width="0.8"/><rect x="572.9" y="989.4" width="8.3" height="6.9" fill="#c5dcaa" stroke="#a9b89a" stroke-width="0.8"/><rect x="583.6" y="989.4" width="8.3" height="6.9" fill="#c5dcaa" stroke="#a9b89a" stroke-width="0.8"/><rect x="594.2" y="989.4" width="8.3" height="6.9" fill="#c5dcaa" stroke="#a9b89a" stroke-width="0.8"/><rect x="605.1" y="989.4" width="8.3" height="6.9" fill="#c5dcaa" stroke="#a9b89a" stroke-width="0.8"/><rect x="615.7" y="989.4" width="8.3" height="6.9" fill="#c5dcaa" stroke="#a9b89a" stroke-width="0.8"/><rect x="648.2" y="989.4" width="8.3" height="6.9" fill="#c5dcaa" stroke="#a9b89a" stroke-width="0.8"/><text font-size="6.33" text-anchor="middle" font-weight="bold" fill="#6b4b4b" transform="translate(635 993.45) scale(0.9486 1)">···</text><path d="M567 936.7 L567 926.16" fill="none" stroke="#d60a0a" stroke-width="1.7"/><path d="M567 920.9 L570.4 928.1 L567 926.52 L563.6 928.1 Z" fill="#d60a0a"/><path d="M567 987.9 L567 979.56" fill="none" stroke="#d60a0a" stroke-width="1.7"/><path d="M567 974.3 L570.4 981.5 L567 979.92 L563.6 981.5 Z" fill="#d60a0a"/><path d="M577.1 936.7 L577.1 926.16" fill="none" stroke="#d60a0a" stroke-width="1.7"/><path d="M577.1 920.9 L580.5 928.1 L577.1 926.52 L573.7 928.1 Z" fill="#d60a0a"/><path d="M577.1 987.9 L577.1 979.56" fill="none" stroke="#d60a0a" stroke-width="1.7"/><path d="M577.1 974.3 L580.5 981.5 L577.1 979.92 L573.7 981.5 Z" fill="#d60a0a"/><path d="M587.6 936.7 L587.6 926.16" fill="none" stroke="#d60a0a" stroke-width="1.7"/><path d="M587.6 920.9 L591 928.1 L587.6 926.52 L584.2 928.1 Z" fill="#d60a0a"/><path d="M587.6 987.9 L587.6 979.56" fill="none" stroke="#d60a0a" stroke-width="1.7"/><path d="M587.6 974.3 L591 981.5 L587.6 979.92 L584.2 981.5 Z" fill="#d60a0a"/><path d="M598.3 936.7 L598.3 926.16" fill="none" stroke="#d60a0a" stroke-width="1.7"/><path d="M598.3 920.9 L601.7 928.1 L598.3 926.52 L594.9 928.1 Z" fill="#d60a0a"/><path d="M598.3 987.9 L598.3 979.56" fill="none" stroke="#d60a0a" stroke-width="1.7"/><path d="M598.3 974.3 L601.7 981.5 L598.3 979.92 L594.9 981.5 Z" fill="#d60a0a"/><path d="M609.2 936.7 L609.2 926.16" fill="none" stroke="#d60a0a" stroke-width="1.7"/><path d="M609.2 920.9 L612.6 928.1 L609.2 926.52 L605.8 928.1 Z" fill="#d60a0a"/><path d="M609.2 987.9 L609.2 979.56" fill="none" stroke="#d60a0a" stroke-width="1.7"/><path d="M609.2 974.3 L612.6 981.5 L609.2 979.92 L605.8 981.5 Z" fill="#d60a0a"/><path d="M619.8 936.7 L619.8 926.16" fill="none" stroke="#d60a0a" stroke-width="1.7"/><path d="M619.8 920.9 L623.2 928.1 L619.8 926.52 L616.4 928.1 Z" fill="#d60a0a"/><path d="M619.8 987.9 L619.8 979.56" fill="none" stroke="#d60a0a" stroke-width="1.7"/><path d="M619.8 974.3 L623.2 981.5 L619.8 979.92 L616.4 981.5 Z" fill="#d60a0a"/><path d="M651.8 936.7 L651.8 926.16" fill="none" stroke="#d60a0a" stroke-width="1.7"/><path d="M651.8 920.9 L655.2 928.1 L651.8 926.52 L648.4 928.1 Z" fill="#d60a0a"/><path d="M651.8 987.9 L651.8 979.56" fill="none" stroke="#d60a0a" stroke-width="1.7"/><path d="M651.8 974.3 L655.2 981.5 L651.8 979.92 L648.4 981.5 Z" fill="#d60a0a"/><rect x="557.6" y="936.7" width="104.2" height="37" fill="#fff" stroke="#1a1a1a" stroke-width="1.3"/><path d="M548 981.9 L556.99 961.74" fill="none" stroke="#d60a0a" stroke-width="2"/><path d="M559.6 955.9 L559.35 964.55 L556.83 962.11 L553.33 961.86 Z" fill="#d60a0a"/><text font-size="18.5" text-anchor="middle" transform="translate(609.9 950) scale(0.9486 1)">Transformer</text><text font-size="18.5" text-anchor="middle" transform="translate(609.9 971) scale(0.9486 1)">Decoder</text>
<path d="M662.6 776.5 L684.8 776.5 L684.8 821.6 L709.25 821.6" fill="none" stroke="#000" stroke-width="2"/><path d="M716 821.6 L707 825.4 L708.8 821.6 L707 817.8 Z" fill="#000"/>
<path d="M662 955.2 L691.2 955.2 L691.2 922" fill="none" stroke="#d60a0a" stroke-width="2"/>
<path d="M691 855.4 L691 833.2 L708.85 833.2" fill="none" stroke="#d60a0a" stroke-width="2"/><path d="M715.6 833.2 L706.6 837 L708.4 833.2 L706.6 829.4 Z" fill="#d60a0a"/>
<rect x="685.4" y="855.2" width="11.6" height="67.1" fill="#fff" stroke="#d60a0a" stroke-width="1.8"/>
<text font-size="10.44" text-anchor="middle" font-weight="bold" transform="translate(694.3 888.6) rotate(-90) scale(0.9486 1)">concatenate</text>
<rect x="713" y="868" width="114.4" height="59.4" fill="#fff" stroke="#cdcdcd" stroke-width="1.3"/>
<text font-size="10.54" text-anchor="middle" transform="translate(770 894.8) scale(0.9486 1)">Hierarchical queries</text>
<text font-size="10.54" text-anchor="middle" transform="translate(770 906.6) scale(0.9486 1)">(Level 1, Level 2, Level 3)</text>
<path d="M735.7 871.5 L735.7 855.24" fill="none" stroke="#000" stroke-width="1.8"/><path d="M735.7 849.4 L739.4 857.4 L735.7 855.64 L732 857.4 Z" fill="#000"/>
<path d="M735.7 811 L735.7 801.24" fill="none" stroke="#000" stroke-width="1.8"/><path d="M735.7 795.4 L739.4 803.4 L735.7 801.64 L732 803.4 Z" fill="#000"/>
<rect x="731.7" y="786.5" width="8" height="8" fill="#ffc000" stroke="#111" stroke-width="1"/>
<rect x="731.7" y="871.3" width="8" height="8.1" fill="#ffc000" stroke="#111" stroke-width="1"/>
<path d="M771.4 871.5 L771.4 855.24" fill="none" stroke="#000" stroke-width="1.8"/><path d="M771.4 849.4 L775.1 857.4 L771.4 855.64 L767.7 857.4 Z" fill="#000"/>
<path d="M771.4 811 L771.4 801.24" fill="none" stroke="#000" stroke-width="1.8"/><path d="M771.4 795.4 L775.1 803.4 L771.4 801.64 L767.7 803.4 Z" fill="#000"/>
<rect x="767.4" y="786.5" width="8" height="8" fill="#8064a2" stroke="#111" stroke-width="1"/>
<rect x="767.4" y="871.3" width="8" height="8.1" fill="#8064a2" stroke="#111" stroke-width="1"/>
<path d="M805.7 871.5 L805.7 855.24" fill="none" stroke="#000" stroke-width="1.8"/><path d="M805.7 849.4 L809.4 857.4 L805.7 855.64 L802 857.4 Z" fill="#000"/>
<path d="M805.7 811 L805.7 801.24" fill="none" stroke="#000" stroke-width="1.8"/><path d="M805.7 795.4 L809.4 803.4 L805.7 801.64 L802 803.4 Z" fill="#000"/>
<rect x="801.7" y="786.5" width="8" height="8" fill="#943634" stroke="#111" stroke-width="1"/>
<rect x="801.7" y="871.3" width="8" height="8.1" fill="#943634" stroke="#111" stroke-width="1"/>
<rect x="716.6" y="811" width="104" height="37.1" fill="#fff" stroke="#111" stroke-width="1.4"/>
<text font-size="18.5" text-anchor="middle" transform="translate(768.7 824.6) scale(0.9486 1)">Transformer</text>
<text font-size="18.5" text-anchor="middle" transform="translate(768.7 845.7) scale(0.9486 1)">Decoder</text>
<path d="M735.6 785.6 C760 769 830 766 863.4 782.6" fill="none" stroke="#ffc000" stroke-width="1.6"/>
<path d="M857.58 782.66 L863.8 782.8 L860.04 777.85" fill="none" stroke="#ffc000" stroke-width="1.5" stroke-linejoin="miter"/>
<path d="M771.4 785.0 C830 768 920 765 982.0 781.2" fill="none" stroke="#8064a2" stroke-width="1.6"/>
<path d="M976.46 782.34 L982.6 781.4 L978.03 777.18" fill="none" stroke="#8064a2" stroke-width="1.5" stroke-linejoin="miter"/>
<path d="M805.8 785.6 C880 770 1010 764 1092.0 781.2" fill="none" stroke="#922c28" stroke-width="1.6"/>
<path d="M1086.51 782.67 L1092.6 781.4 L1087.82 777.43" fill="none" stroke="#922c28" stroke-width="1.5" stroke-linejoin="miter"/>
<path d="M1093.9 910.5 L1093.9 969.4 L1103.7 969.4" fill="none" stroke="#922c28" stroke-width="1.9"/>
<rect x="1103.7" y="934.5" width="114" height="69.4" fill="#fff" stroke="#922c28" stroke-width="1.6"/><text font-size="18.5" text-anchor="middle" transform="translate(1160.7 953.2) scale(0.9486 1)">Level 3</text><text font-size="18.5" text-anchor="middle" transform="translate(1160.7 974.4) scale(0.9486 1)">latent features</text><text font-size="18.5" text-anchor="middle" transform="translate(1160.7 995.6) scale(0.9486 1)"><tspan dy="1.6">(</tspan><tspan font-style="italic">f(x<tspan font-size="11.6" dy="3">i</tspan><tspan dy="-3">)</tspan><tspan font-size="11.6" dy="3">l3</tspan></tspan><tspan dy="-3">)</tspan></text>
<text font-size="18.5" text-anchor="middle" transform="translate(1344 842.4) scale(0.9486 1)">Level 3 latent space</text>
<rect x="1231" y="852.3" width="225.6" height="196.7" rx="19" fill="#fff" stroke="#922c28" stroke-width="1.5"/>
<path d="M1217.6 970.3 L1326.4 970.3 L1326.4 953.23" fill="none" stroke="#922c28" stroke-width="1.8"/><path d="M1326.4 946 L1329.7 954.5 L1326.4 953.65 L1323.1 954.5 Z" fill="#922c28"/>
<circle cx="1283.8" cy="881.9" r="8.1" fill="#8c3230"/>
<circle cx="1389.1" cy="881.9" r="8.1" fill="#8c3230"/>
<circle cx="1420.4" cy="937" r="8.1" fill="#8c3230"/>
<circle cx="1360.9" cy="960.7" r="8.1" fill="#8c3230"/>
<circle cx="1302.7" cy="1019.1" r="8.1" fill="#8c3230"/>
<circle cx="1326.2" cy="937.0" r="7.8" fill="#fff" stroke="#922c28" stroke-width="1.4"/>
<text font-size="18.55" font-style="italic" fill="#1a1a1a" transform="translate(1283.6 873) scale(0.9486 1)">pl3<tspan font-size="12" dy="2.4">0</tspan></text>
<text font-size="18.55" font-style="italic" fill="#1a1a1a" transform="translate(1388.6 870.2) scale(0.9486 1)">pl3<tspan font-size="12" dy="2.4">1</tspan></text>
<text font-size="18.55" font-style="italic" fill="#1a1a1a" transform="translate(1404.8 960) scale(0.9486 1)">pl3<tspan font-size="12" dy="2.4">2</tspan></text>
<text font-size="18.55" font-style="italic" fill="#1a1a1a" transform="translate(1343.6 980.2) scale(0.9486 1)">pl3<tspan font-size="12" dy="2.4">3</tspan></text>
<text font-size="18.55" font-style="italic" fill="#1a1a1a" transform="translate(1301.8 1042.4) scale(0.9486 1)">pl3<tspan font-size="12" dy="2.4">n</tspan></text>
<text font-size="18.13" font-style="italic" fill="#1a1a1a" transform="translate(1278.4 937.4) scale(0.9486 1)">f(x<tspan font-size="12" dy="3">i</tspan><tspan dy="-3">)</tspan><tspan font-size="12" dy="3">l3</tspan></text>
<text font-size="18.13" font-style="italic" transform="translate(1334.6 932.4) rotate(42) scale(0.9486 1)">d<tspan font-size="11.5" dy="3.2">xpl3i</tspan></text>
<path d="M1335.4 945.4 L1350.6 957.2" fill="none" stroke="#000" stroke-width="1.6"/>
<path d="M1332.2 943 L1339.02 944.83 L1337.32 947 L1335.63 949.17 Z" fill="#000"/>
<path d="M1353.8 959.8 L1346.98 957.97 L1348.68 955.8 L1350.37 953.63 Z" fill="#000"/>
<text font-size="18.5" transform="translate(1508.2 921.6) scale(0.9486 1)">if</text>
<rect x="1529.4" y="903.9" width="170.7" height="25.4" fill="#fff" stroke="#111" stroke-width="1.5"/>
<text x="1535.2" y="921.4" font-size="18.6" font-style="italic" fill="#222" textLength="159.4" lengthAdjust="spacingAndGlyphs">min<tspan font-style="normal">(</tspan>d<tspan font-size="13.2" dy="3.2" stroke="#222" stroke-width="0.3">xpl3i</tspan><tspan font-style="normal" dy="-3.2">) &gt; </tspan>t<tspan font-size="13.2" dy="3.2" stroke="#222" stroke-width="0.3">triage</tspan></text>
<text font-size="18.5" text-anchor="middle" transform="translate(1621 952.8) scale(0.9486 1)">Triage</text>
<text font-size="18.5" text-anchor="middle" transform="translate(1621 973.9) scale(0.9486 1)">recommendation</text>
<path d="M1707.4 290 L1740.7 290 L1740.7 1163 L891.6 1163" fill="none" stroke="#d60a0a" stroke-width="1.8"/>
<path d="M1700.6 916.4 L1740.7 916.4" fill="none" stroke="#d60a0a" stroke-width="1.9"/>
<path d="M509.1 1163 L228 1163 L228 951 L252.45 951" fill="none" stroke="#d60a0a" stroke-width="1.9"/><path d="M259.2 951 L250.2 954.8 L252 951 L250.2 947.2 Z" fill="#d60a0a"/>
<rect x="509.1" y="1142.4" width="382.5" height="42.2" rx="5.5" fill="#fff" stroke="#d60a0a" stroke-width="1.8"/>
<text font-size="22.24" text-anchor="middle" transform="translate(703.3 1170.2) scale(0.9486 1)">Feedback loop – Multi-modal analysis</text>
</svg>
</body>
</html>
